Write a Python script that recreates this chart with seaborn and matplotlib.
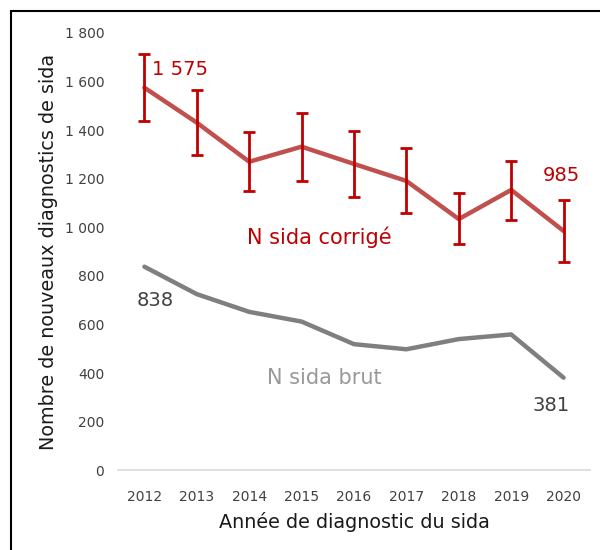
import matplotlib
matplotlib.use("Agg")
import matplotlib.pyplot as plt
import seaborn as sns
import pandas as pd
from matplotlib.lines import Line2D
from matplotlib.ticker import FuncFormatter

years = [2012, 2013, 2014, 2015, 2016, 2017, 2018, 2019, 2020]
corrige = [1575, 1431, 1270, 1332, 1261, 1191, 1034, 1154, 985]
corrige_hi = [1714, 1566, 1394, 1472, 1397, 1328, 1140, 1274, 1112]
corrige_lo = [1439, 1298, 1149, 1191, 1123, 1058, 930, 1029, 858]
brut = [838, 725, 652, 612, 519, 498, 540, 559, 381]
yticks = [0, 200, 400, 600, 800, 1000, 1200, 1400, 1600, 1800]

df = pd.DataFrame({"annee": years, "corrige": corrige, "brut": brut,
                   "hi": corrige_hi, "lo": corrige_lo})

sns.set_theme(style="white")
plt.rcParams["font.family"] = ["DejaVu Sans"]

fig = plt.figure(figsize=(6, 5.5), dpi=100)
ax = fig.add_axes([0.197, 0.145, 0.786, 0.795])

RED_LINE = "#C0504D"
RED = "#C00000"
GRAY = "#7F7F7F"

sns.lineplot(data=df, x="annee", y="corrige", ax=ax, color=RED_LINE, linewidth=3.2, zorder=3)
sns.lineplot(data=df, x="annee", y="brut", ax=ax, color=GRAY, linewidth=3.2, zorder=3)
ax.errorbar(df["annee"], df["corrige"],
            yerr=[df["corrige"] - df["lo"], df["hi"] - df["corrige"]],
            fmt="none", ecolor=RED, elinewidth=2, capsize=4.5, capthick=2, zorder=4)

ax.set_xlim(2011.5, 2020.5)
ax.set_ylim(0, 1800)
ax.set_xticks(years)
ax.set_xticklabels([str(y) for y in years])
ax.set_yticks(yticks)
ax.yaxis.set_major_formatter(FuncFormatter(lambda v, p: f"{v:,.0f}".replace(",", " ")))
ax.tick_params(axis="both", length=0, labelsize=10, colors="#404040")
ax.tick_params(axis="x", pad=14)
ax.tick_params(axis="y", pad=10)

for s in ["top", "right", "left"]:
    ax.spines[s].set_visible(False)
ax.spines["bottom"].set_color("#D9D9D9")
ax.spines["bottom"].set_linewidth(1.2)

ax.set_xlabel("Année de diagnostic du sida", fontsize=13.8, color="#1a1a1a", labelpad=6)
ax.set_ylabel("Nombre de nouveaux diagnostics de sida", fontsize=13.8, color="#1a1a1a", labelpad=5)

ax.text(2012.15, 1650, "1 575", color=RED, fontsize=14, ha="left", va="center")
ax.text(2019.95, 1215, "985", color=RED, fontsize=14, ha="center", va="center")
ax.text(2015.34, 960, "N sida corrigé", color=RED, fontsize=15, ha="center", va="center")
ax.text(2012.2, 700, "838", color="#404040", fontsize=14, ha="center", va="center")
ax.text(2015.44, 379, "N sida brut", color="#999999", fontsize=15, ha="center", va="center")
ax.text(2019.77, 268, "381", color="#404040", fontsize=14, ha="center", va="center")

# frame (top and left visible)
x0, y0 = 11 / 600, 1 - 11 / 550
fig.add_artist(Line2D([x0, 1.0], [y0, y0], color="black", linewidth=1.5, transform=fig.transFigure))
fig.add_artist(Line2D([x0, x0], [0.0, y0], color="black", linewidth=1.5, transform=fig.transFigure))

fig.savefig("out.png", dpi=100)
